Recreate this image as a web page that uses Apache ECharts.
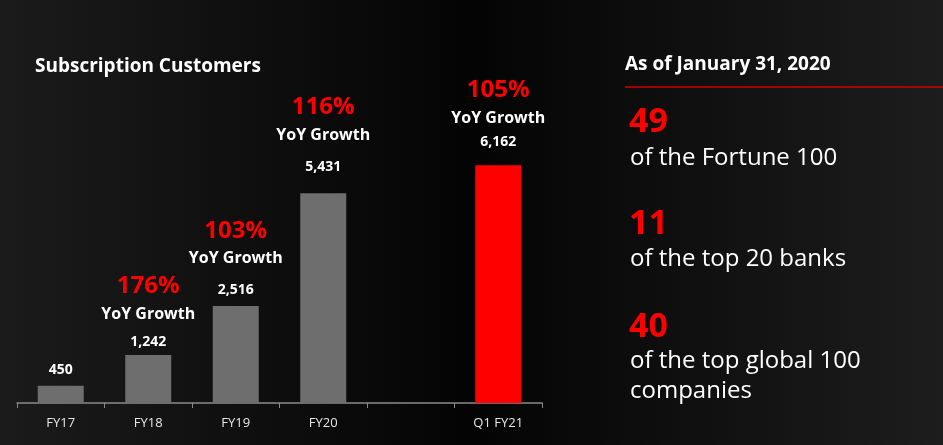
<!DOCTYPE html>
<html>
<head>
<meta charset="utf-8">
<script src="https://cdn.jsdelivr.net/npm/echarts@6/dist/echarts.min.js"></script>
<style>
html,body{margin:0;padding:0;background:#0c0c0c;}
#chart{width:943px;height:445px;}
</style>
</head>
<body>
<div id="chart"></div>
<script>
// ---- data ----
var categories = ['FY17', 'FY18', 'FY19', 'FY20', '', 'Q1 FY21'];
var customers = [450, 1242, 2516, 5431, null, 6162];
var growth = [null, '176%', '103%', '116%', null, '105%'];
var highlight = [false, false, false, false, false, true];
var statNumbers = ['49', '11', '40'];
var statTexts = [['of the Fortune 100'], ['of the top 20 banks'], ['of the top global 100', 'companies']];
var chartTitle = 'Subscription Customers';
var panelTitle = 'As of January 31, 2020';

// ---- style ----
var FONT = '"Open Sans", sans-serif';
var valueGap = [9, 6, 9, 19, 0, 16];
var growthGap = [0, 27, 33, 44, 0, 33];

function fmt(v) { return v == null ? '' : v.toLocaleString('en-US'); }

var barData = customers.map(function (v, i) {
  return {
    value: v,
    itemStyle: { color: highlight[i] ? '#ff0000' : '#6e6e6e' },
    label: { distance: valueGap[i] }
  };
});
var growthData = customers.map(function (v, i) {
  return {
    value: v,
    label: { show: growth[i] != null, distance: growthGap[i] }
  };
});

var graphics = [
  { type: 'text', x: 35, y: 67, style: { text: chartTitle, fill: '#ffffff', font: 'bold 19px ' + FONT, textVerticalAlign: 'middle' } },
  { type: 'text', x: 625, y: 65, style: { text: panelTitle, fill: '#ffffff', font: 'bold 19px ' + FONT, textVerticalAlign: 'middle' } },
  { type: 'line', shape: { x1: 625, y1: 87, x2: 943, y2: 87 }, style: { stroke: '#d00000', lineWidth: 1.5 } }
];
var numY = [122, 224, 327];
var lineY = [[158], [259], [361, 391]];
statNumbers.forEach(function (n, i) {
  graphics.push({ type: 'text', x: 629, y: numY[i], style: { text: n, fill: '#ff0000', font: 'bold 34px ' + FONT, textVerticalAlign: 'middle' } });
  statTexts[i].forEach(function (t, j) {
    graphics.push({ type: 'text', x: 630, y: lineY[i][j], style: { text: t, fill: '#ffffff', font: '24px ' + FONT, textVerticalAlign: 'middle' } });
  });
});

var chart = echarts.init(document.getElementById('chart'));
chart.setOption({
  backgroundColor: {
    type: 'linear', x: 0, y: 0, x2: 1, y2: 0,
    colorStops: [
      { offset: 0, color: '#1b1b1b' },
      { offset: 0.5, color: '#040404' },
      { offset: 1, color: '#1d1d1d' }
    ]
  },
  animation: false,
  grid: { left: 17, right: 401, top: 17, bottom: 42 },
  xAxis: {
    type: 'category',
    data: categories,
    axisLine: { lineStyle: { color: '#8a8a8a', width: 1.5 } },
    axisTick: { show: true, length: 5, lineStyle: { color: '#8a8a8a' } },
    axisLabel: { color: '#e6e6e6', fontSize: 13, margin: 14, fontFamily: FONT }
  },
  yAxis: { type: 'value', min: 0, max: 10000, show: false, splitLine: { show: false } },
  series: [
    {
      type: 'bar',
      data: barData,
      barWidth: 46,
      label: {
        show: true, position: 'top',
        color: '#ffffff', fontSize: 14, fontWeight: 'bold', fontFamily: FONT,
        formatter: function (p) { return fmt(p.value); }
      }
    },
    {
      type: 'bar',
      data: growthData,
      barWidth: 46,
      barGap: '-100%',
      itemStyle: { color: 'rgba(0,0,0,0)' },
      silent: true,
      label: {
        position: 'top',
        formatter: function (p) { return '{pct|' + growth[p.dataIndex] + '}\n{yoy|YoY Growth}'; },
        rich: {
          pct: { color: '#ff0000', fontSize: 24, fontWeight: 'bold', lineHeight: 28, fontFamily: FONT },
          yoy: { color: '#ffffff', fontSize: 16, fontWeight: 'bold', lineHeight: 28, fontFamily: FONT }
        }
      }
    }
  ],
  graphic: graphics
});
</script>
</body>
</html>
